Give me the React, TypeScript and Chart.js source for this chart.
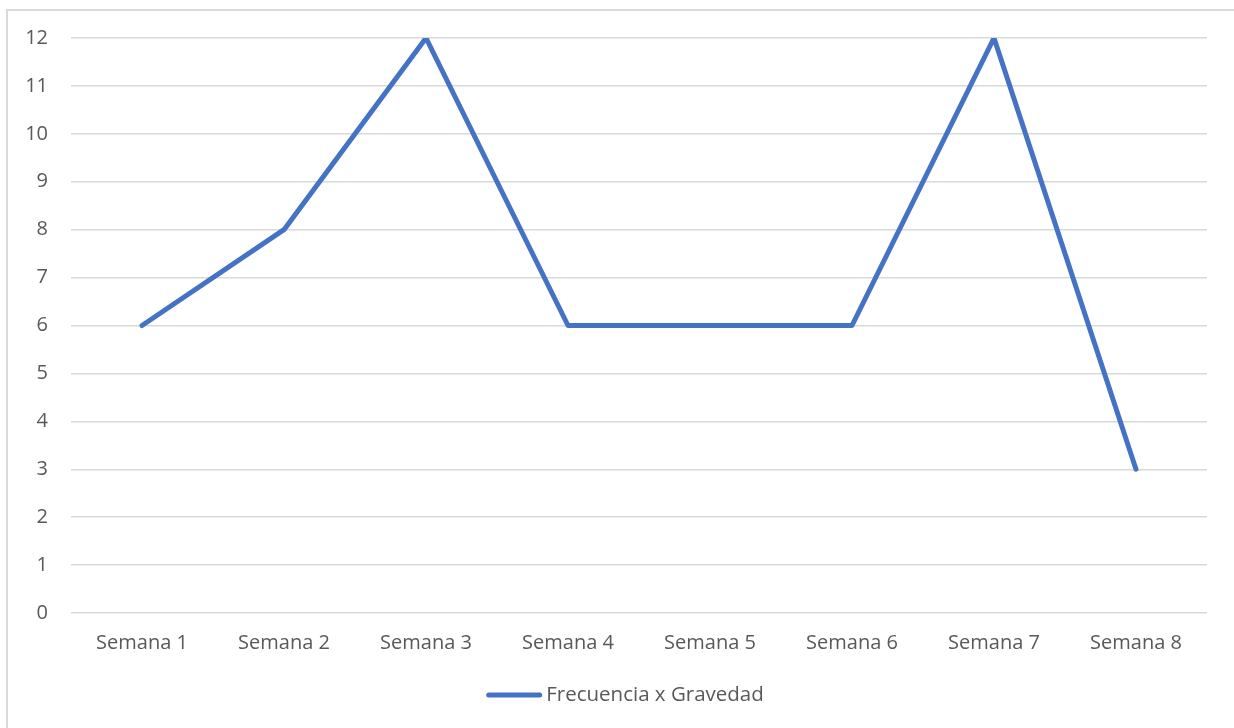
import React, { useEffect, useRef } from "react";
import { Chart, registerables } from "chart.js";

Chart.register(...registerables);

const semanas = ["Semana 1", "Semana 2", "Semana 3", "Semana 4", "Semana 5", "Semana 6", "Semana 7", "Semana 8"];
const frecuenciaGravedad = [6, 8, 12, 6, 6, 6, 12, 3];
const serieNombre = "Frecuencia x Gravedad";

const FONT = "'Open Sans', 'Liberation Sans', sans-serif";
const TEXT = "#595959";
const GRID = "#d9d9d9";
const LINE = "#4472C4";

// Light frame around the chart object, open to the right and bottom
const framePlugin = {
  id: "frame",
  beforeDraw(chart: Chart) {
    const ctx = chart.ctx;
    ctx.save();
    ctx.strokeStyle = GRID;
    ctx.lineWidth = 2;
    ctx.strokeRect(7, 10, 1400, 900);
    ctx.restore();
  },
};

// Bottom legend: a short line swatch followed closely by the series name,
// centred on the chart frame
const lineLegendPlugin = {
  id: "lineLegend",
  afterDraw(chart: Chart) {
    const ctx = chart.ctx;
    const ds = chart.data.datasets[0] as any;
    const label = String(ds.label);
    const swatch = 56;
    const gap = 4;
    const y = 695;
    ctx.save();
    ctx.font = `20.5px ${FONT}`;
    const textW = ctx.measureText(label).width;
    const total = swatch + gap + textW;
    const x0 = 625 - total / 2;
    ctx.strokeStyle = ds.borderColor;
    ctx.lineWidth = ds.borderWidth;
    ctx.lineCap = "round";
    ctx.beginPath();
    ctx.moveTo(x0 + 2.5, y);
    ctx.lineTo(x0 + swatch - 2.5, y);
    ctx.stroke();
    ctx.fillStyle = TEXT;
    ctx.textBaseline = "middle";
    ctx.textAlign = "left";
    ctx.fillText(label, x0 + swatch + gap, y);
    ctx.restore();
  },
};

export default function App() {
  const ref = useRef<HTMLCanvasElement | null>(null);

  useEffect(() => {
    document.body.style.margin = "0";
    if (!ref.current) return;
    const chart = new Chart(ref.current, {
      type: "line",
      data: {
        labels: semanas,
        datasets: [
          {
            label: serieNombre,
            data: frecuenciaGravedad,
            borderColor: LINE,
            backgroundColor: LINE,
            borderWidth: 5,
            borderCapStyle: "round",
            borderJoinStyle: "round",
            pointRadius: 0,
            pointHoverRadius: 0,
            tension: 0,
          },
        ],
      },
      options: {
        responsive: false,
        animation: false,
        layout: { padding: { left: 0, right: 27, top: 38, bottom: 55 } },
        plugins: {
          tooltip: { enabled: false },
          legend: { display: false },
        },
        scales: {
          x: {
            offset: true,
            grid: { display: false, drawTicks: false },
            border: { display: false },
            ticks: { color: TEXT, font: { family: FONT, size: 20 }, padding: 18, maxRotation: 0 },
          },
          y: {
            min: 0,
            max: 12,
            afterFit(scale: any) {
              scale.width = 71;
            },
            grid: { color: GRID, lineWidth: 1.5, drawTicks: false },
            border: { display: false },
            ticks: { stepSize: 1, color: TEXT, font: { family: FONT, size: 20 }, padding: 23 },
          },
        },
      },
      plugins: [framePlugin, lineLegendPlugin],
    });
    return () => chart.destroy();
  }, []);

  return (
    <div style={{ width: 1234, height: 728 }}>
      <canvas ref={ref} width={1234} height={728} />
    </div>
  );
}
